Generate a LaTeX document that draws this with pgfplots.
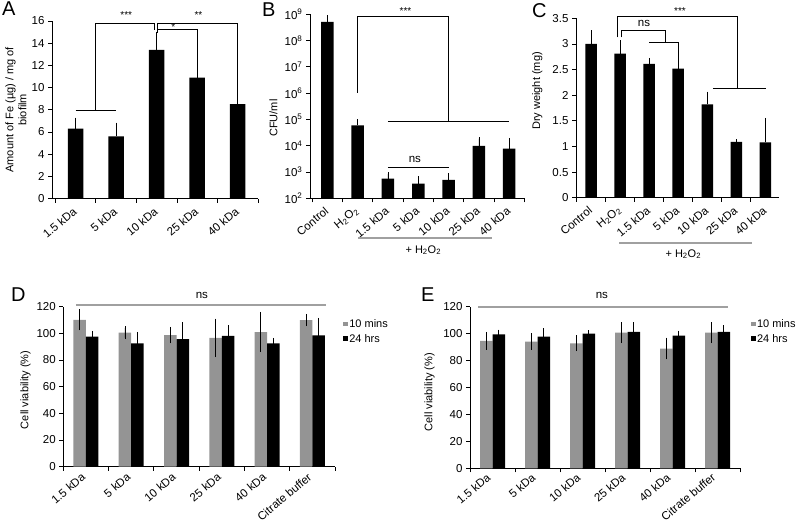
\documentclass[border=0pt]{standalone}
\usepackage{fontspec}
\setmainfont{Liberation Sans}
\usepackage{pgfplots}
\pgfplotsset{compat=1.18}
\definecolor{bargray}{RGB}{148,148,148}
\definecolor{linegray}{RGB}{160,160,160}
\newcommand{\fs}{\fontsize{11}{13}\selectfont}
\newcommand{\fx}{\fontsize{11.5}{13}\selectfont}
\pgfplotsset{
  panel/.style={
    scale only axis,
    axis x line*=bottom, axis y line*=left,
    axis line style={-, black, line width=0.8pt},
    tick align=outside,
    major tick length=4pt, minor tick length=4pt,
    tick style={black, line width=0.8pt},
    major x tick style={draw=none},
    minor x tick style={black, line width=0.8pt},
    yticklabel style={font=\fx, black},
    xticklabel style={font=\fx, black},
    label style={font=\fs},
    /pgf/number format/assume math mode=true,
    xticklabel style={yshift=-5pt, xshift=2pt, rotate=40, anchor=east},
    clip=false,
    ybar,
    error bars/error bar style={black, line width=0.8pt},
    error bars/error mark options={black, line width=0.8pt, mark size=1.5pt},
  },
}
\begin{document}
\begin{tikzpicture}[x=1pt,y=1pt]
\path[use as bounding box] (0pt,0pt) rectangle (800pt,523pt);

% ---------------- Panel A ----------------
\begin{axis}[panel, at={(52pt,324.5pt)}, anchor=south west, width=206pt, height=177.5pt,
  xmin=-0.58, xmax=4.5, ymin=0, ymax=16, ytick={0,2,...,16},
  xtick={0,...,4}, xticklabels={1.5 kDa,5 kDa,10 kDa,25 kDa,40 kDa},
  minor xtick={-0.5,0.5,...,4.5}, bar width=15.5pt,
  ylabel={Amount of Fe (µg) / mg of\\biofilm},
  ylabel style={align=center, at={(axis description cs:-0.175,0.5)}, anchor=center}]
\addplot[fill=black, draw=none, error bars/.cd, y dir=plus, y explicit] coordinates {
(0,6.3) +- (0,0.85)
(1,5.6) +- (0,1.1)
(2,13.4) +- (0,1.5)
(3,10.9) +- (0,0.25)
(4,8.5) +- (0,1.65)
};
\draw[black, line width=0.8pt] (axis cs:0,7.9) -- (axis cs:1,7.9);
\draw[black, line width=0.8pt] (axis cs:0.5,7.9) -- (axis cs:0.5,15.8) -- (axis cs:1.94,15.8) -- (axis cs:1.94,15.2);
\draw[black, line width=0.8pt] (axis cs:2.02,14.95) -- (axis cs:2.02,15.8) -- (axis cs:4,15.8) -- (axis cs:4,10.3);
\draw[black, line width=0.8pt] (axis cs:2.02,15.2) -- (axis cs:3,15.2) -- (axis cs:3,11.3);
\node[font=\fontsize{10}{11}\selectfont] at (axis cs:1.25,16.5) {***};
\node[font=\fontsize{10}{11}\selectfont] at (axis cs:3.03,16.5) {**};
\node[font=\fontsize{10}{11}\selectfont] at (axis cs:2.41,15.45) {*};
\end{axis}

% ---------------- Panel B ----------------
\begin{axis}[panel, at={(310pt,324.7pt)}, anchor=south west, width=215pt, height=184pt,
  ymode=log, log origin y=infty, ymin=1e2, ymax=1e9, yminorticks=false,
  ytick={1e2,1e3,1e4,1e5,1e6,1e7,1e8,1e9},
  yticklabels={10\textsuperscript{2},10\textsuperscript{3},10\textsuperscript{4},10\textsuperscript{5},10\textsuperscript{6},10\textsuperscript{7},10\textsuperscript{8},10\textsuperscript{9}},
  xmin=-0.57, xmax=6.52, xtick={0,...,6},
  xticklabels={Control,H\textsubscript{2}O\textsubscript{2},1.5 kDa,5 kDa,10 kDa,25 kDa,40 kDa},
  minor xtick={-0.5,0.5,...,6.5}, bar width=12.5pt,
  ylabel={CFU/ml}, ylabel style={at={(axis description cs:-0.17,0.436)}, anchor=center}]
\addplot[fill=black, draw=none, error bars/.cd, y dir=plus, y explicit] coordinates {
(0,5.2e8) +- (0,2.8e8)
(1,6e4) +- (0,3e4)
(2,560) +- (0,290)
(3,360) +- (0,250)
(4,500) +- (0,275)
(5,9800) +- (0,8800)
(6,7700) +- (0,9800)
};
\draw[black, line width=0.8pt] (axis cs:1,1.05e6) -- (axis cs:1,8.13e8) -- (axis cs:4,8.13e8) -- (axis cs:4,8.3e4);
\draw[black, line width=0.8pt] (axis cs:2,8.3e4) -- (axis cs:6,8.3e4);
\draw[black, line width=0.8pt] (axis cs:2,1480) -- (axis cs:4,1480);
\node[font=\fontsize{10}{11}\selectfont] at (axis cs:2.58,1.3e9) {***};
\node[font=\fontsize{11.5}{13}\selectfont] at (axis cs:2.89,3000) {ns};
\end{axis}
\draw[linegray, line width=1.8pt] (358.3pt,285pt) -- (491.7pt,285pt);
\node[font=\fs] at (423.3pt,273pt) {+ H\textsubscript{2}O\textsubscript{2}};

% ---------------- Panel C ----------------
\begin{axis}[panel, at={(576pt,325.3pt)}, anchor=south west, width=203.3pt, height=179.4pt,
  ymin=0, ymax=3.5, ytick={0,0.5,...,3.5},
  xmin=-0.52, xmax=6.48, xtick={0,...,6},
  xticklabels={Control,H\textsubscript{2}O\textsubscript{2},1.5 kDa,5 kDa,10 kDa,25 kDa,40 kDa},
  minor xtick={-0.5,0.5,...,6.5}, bar width=11.5pt,
  ylabel={Dry weight (mg)}, ylabel style={at={(axis description cs:-0.19,0.595)}, anchor=center}]
\addplot[fill=black, draw=none, error bars/.cd, y dir=plus, y explicit] coordinates {
(0,3.0) +- (0,0.24)
(1,2.81) +- (0,0.23)
(2,2.61) +- (0,0.09)
(3,2.52) +- (0,0.46)
(4,1.82) +- (0,0.22)
(5,1.09) +- (0,0.02)
(6,1.08) +- (0,0.45)
};
\draw[black, line width=0.8pt] (axis cs:0.9,3.13) -- (axis cs:0.9,3.53) -- (axis cs:5.04,3.53) -- (axis cs:5.04,2.13);
\draw[black, line width=0.8pt] (axis cs:4.19,2.13) -- (axis cs:6.02,2.13);
\draw[black, line width=0.8pt] (axis cs:1.03,3.13) -- (axis cs:1.03,3.27) -- (axis cs:2.57,3.27) -- (axis cs:2.57,3.03);
\draw[black, line width=0.8pt] (axis cs:2.0,3.03) -- (axis cs:3.03,3.03);
\node[font=\fontsize{10}{11}\selectfont] at (axis cs:3.06,3.64) {***};
\node[font=\fontsize{11.5}{13}\selectfont] at (axis cs:1.82,3.4) {ns};
\end{axis}
\draw[linegray, line width=1.8pt] (619.3pt,280.3pt) -- (751.7pt,280.3pt);
\node[font=\fs] at (683.3pt,269pt) {+ H\textsubscript{2}O\textsubscript{2}};

% ---------------- Panel D ----------------
\begin{axis}[panel, at={(63.3pt,56.3pt)}, anchor=south west, width=271.7pt, height=160pt,
  ybar=0pt, bar width=12.5pt,
  xmin=-0.5, xmax=5.5, ymin=0, ymax=120, ytick={0,20,...,120},
  xtick={0,...,5}, xticklabels={1.5 kDa,5 kDa,10 kDa,25 kDa,40 kDa,Citrate buffer},
  minor xtick={-0.5,0.5,...,5.5},
  xticklabel style={yshift=3pt},
  ylabel={Cell viability (\%)}, ylabel style={at={(axis description cs:-0.139,0.48)}, anchor=center},
  legend image code/.code={\fill[#1] (0pt,-2pt) rectangle (4.5pt,2.5pt);},
  legend style={draw=none, fill=none, at={(axis description cs:1.03,0.93)}, anchor=north west,
    font=\fs, row sep=2pt, inner sep=0pt, nodes={inner sep=1.5pt}},
  legend cell align=left]
\addplot[fill=bargray, draw=none, error bars/.cd, y dir=both, y explicit] coordinates {
(0,110.1) +- (0,6.7)
(1,100.5) +- (0,3.7)
(2,98.7) +- (0,5)
(3,96.7) +- (0,13.3)
(4,101) +- (0,14)
(5,110) +- (0,3.5)
};
\addplot[fill=black, draw=none, error bars/.cd, y dir=both, y explicit] coordinates {
(0,97.5) +- (0,3.2)
(1,92.5) +- (0,7.5)
(2,95.7) +- (0,11.7)
(3,98.2) +- (0,6.8)
(4,92.5) +- (0,3)
(5,98.5) +- (0,12)
};
\legend{10 mins,24 hrs}
\draw[linegray, line width=1.8pt] (axis cs:-0.22,121.5) -- (axis cs:5.3,121.5);
\node[font=\fontsize{11.5}{13}\selectfont] at (axis cs:2.56,128.8) {ns};
\end{axis}

% ---------------- Panel E ----------------
\begin{axis}[panel, at={(470pt,54.7pt)}, anchor=south west, width=270pt, height=161.7pt,
  ybar=0pt, bar width=12.5pt,
  xmin=-0.5, xmax=5.5, ymin=0, ymax=120, ytick={0,20,...,120},
  xtick={0,...,5}, xticklabels={1.5 kDa,5 kDa,10 kDa,25 kDa,40 kDa,Citrate buffer},
  minor xtick={-0.5,0.5,...,5.5},
  xticklabel style={yshift=5pt},
  ylabel={Cell viability (\%)}, ylabel style={at={(axis description cs:-0.15,0.47)}, anchor=center},
  legend image code/.code={\fill[#1] (0pt,-2pt) rectangle (4.5pt,2.5pt);},
  legend style={draw=none, fill=none, at={(axis description cs:1.04,0.93)}, anchor=north west,
    font=\fs, row sep=2pt, inner sep=0pt, nodes={inner sep=1.5pt}},
  legend cell align=left]
\addplot[fill=bargray, draw=none, error bars/.cd, y dir=both, y explicit] coordinates {
(0,94.6) +- (0,5.5)
(1,94.1) +- (0,5)
(2,92.8) +- (0,4.7)
(3,100.7) +- (0,6.7)
(4,88.9) +- (0,7)
(5,100.7) +- (0,6.7)
};
\addplot[fill=black, draw=none, error bars/.cd, y dir=both, y explicit] coordinates {
(0,99.3) +- (0,2.5)
(1,97.8) +- (0,5)
(2,100) +- (0,1.5)
(3,101.2) +- (0,6)
(4,98.5) +- (0,2.5)
(5,101.2) +- (0,3.7)
};
\legend{10 mins,24 hrs}
\draw[linegray, line width=1.8pt] (axis cs:-0.32,119.8) -- (axis cs:5.24,119.8);
\node[font=\fontsize{11.5}{13}\selectfont] at (axis cs:2.43,128.6) {ns};
\end{axis}

% panel letters
\node[anchor=north west, inner sep=0pt, font=\fontsize{20}{22}\selectfont] at (2pt,521.5pt) {A};
\node[anchor=north west, inner sep=0pt, font=\fontsize{20}{22}\selectfont] at (262pt,520pt) {B};
\node[anchor=north west, inner sep=0pt, font=\fontsize{20}{22}\selectfont] at (532pt,520pt) {C};
\node[anchor=north west, inner sep=0pt, font=\fontsize{20}{22}\selectfont] at (11pt,235pt) {D};
\node[anchor=north west, inner sep=0pt, font=\fontsize{20}{22}\selectfont] at (421pt,235pt) {E};
\end{tikzpicture}
\end{document}
